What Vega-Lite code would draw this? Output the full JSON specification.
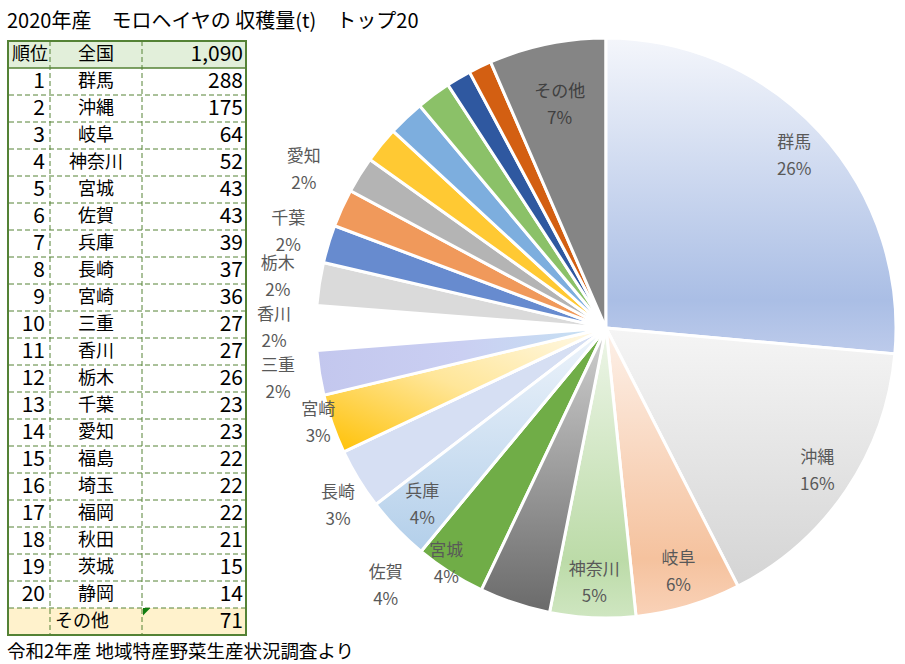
{
  "$schema": "https://vega.github.io/schema/vega-lite/v6.json",
  "background": "white",
  "padding": {"left": 7, "top": 12, "right": 0, "bottom": 0},
  "title": {"text": "2020年産\u3000モロヘイヤの 収穫量(t)\u3000トップ20", "anchor": "start", "fontSize": 20, "font": "Noto Sans CJK JP", "fontWeight": "normal", "color": "#000000", "offset": 0},
  "config": {"view": {"stroke": null}, "font": "Noto Sans CJK JP"},
  "datasets": {
    "prefs": [
      {"rank": 1, "name": "群馬", "t": 288},
      {"rank": 2, "name": "沖縄", "t": 175},
      {"rank": 3, "name": "岐阜", "t": 64},
      {"rank": 4, "name": "神奈川", "t": 52},
      {"rank": 5, "name": "宮城", "t": 43},
      {"rank": 6, "name": "佐賀", "t": 43},
      {"rank": 7, "name": "兵庫", "t": 39},
      {"rank": 8, "name": "長崎", "t": 37},
      {"rank": 9, "name": "宮崎", "t": 36},
      {"rank": 10, "name": "三重", "t": 27},
      {"rank": 11, "name": "香川", "t": 27},
      {"rank": 12, "name": "栃木", "t": 26},
      {"rank": 13, "name": "千葉", "t": 23},
      {"rank": 14, "name": "愛知", "t": 23},
      {"rank": 15, "name": "福島", "t": 22},
      {"rank": 16, "name": "埼玉", "t": 22},
      {"rank": 17, "name": "福岡", "t": 22},
      {"rank": 18, "name": "秋田", "t": 21},
      {"rank": 19, "name": "茨城", "t": 15},
      {"rank": 20, "name": "静岡", "t": 14},
      {"rank": null, "name": "その他", "t": 71}
    ]
  },
  "hconcat": [
    {
      "width": 238,
      "height": 594,
      "data": {"name": "prefs"},
      "title": {"text": "令和2年産 地域特産野菜生産状況調査より", "orient": "bottom", "anchor": "start", "fontSize": 18.5, "font": "Noto Sans CJK JP", "fontWeight": "normal", "color": "#000000", "offset": 7},
      "layer": [
        {
          "transform": [{"aggregate": [{"op": "count", "as": "n"}]}],
          "mark": {"type": "rect", "color": "#E2EFDA"},
          "encoding": {
            "x": {"datum": 0, "type": "quantitative", "scale": {"domain": [0, 238], "nice": false, "zero": false}, "axis": null},
            "x2": {"datum": 238},
            "y": {"datum": "全国", "type": "nominal", "scale": {"domain": ["全国","群馬","沖縄","岐阜","神奈川","宮城","佐賀","兵庫","長崎","宮崎","三重","香川","栃木","千葉","愛知","福島","埼玉","福岡","秋田","茨城","静岡","その他"], "paddingInner": 0, "paddingOuter": 0}, "axis": null}
          }
        },
        {
          "transform": [{"filter": "datum.name === 'その他'"}],
          "mark": {"type": "rect", "color": "#FFF2CC"},
          "encoding": {
            "x": {"datum": 0, "type": "quantitative", "scale": {"domain": [0, 238], "nice": false, "zero": false}, "axis": null},
            "x2": {"datum": 238},
            "y": {"field": "name", "type": "nominal", "scale": {"domain": ["全国","群馬","沖縄","岐阜","神奈川","宮城","佐賀","兵庫","長崎","宮崎","三重","香川","栃木","千葉","愛知","福島","埼玉","福岡","秋田","茨城","静岡","その他"], "paddingInner": 0, "paddingOuter": 0}, "axis": null}
          }
        },
        {
          "transform": [{"filter": "datum.name !== '群馬'"}],
          "mark": {"type": "rule", "color": "#548235", "strokeWidth": 1, "strokeDash": [5, 3]},
          "encoding": {
            "y": {"field": "name", "type": "nominal", "bandPosition": 0, "scale": {"domain": ["全国","群馬","沖縄","岐阜","神奈川","宮城","佐賀","兵庫","長崎","宮崎","三重","香川","栃木","千葉","愛知","福島","埼玉","福岡","秋田","茨城","静岡","その他"], "paddingInner": 0, "paddingOuter": 0}, "axis": null}
          }
        },
        {
          "transform": [{"filter": "datum.name === '群馬'"}],
          "mark": {"type": "rule", "color": "#548235", "strokeWidth": 1.5},
          "encoding": {
            "y": {"field": "name", "type": "nominal", "bandPosition": 0, "scale": {"domain": ["全国","群馬","沖縄","岐阜","神奈川","宮城","佐賀","兵庫","長崎","宮崎","三重","香川","栃木","千葉","愛知","福島","埼玉","福岡","秋田","茨城","静岡","その他"], "paddingInner": 0, "paddingOuter": 0}, "axis": null}
          }
        },
        {
          "transform": [{"aggregate": [{"op": "count", "as": "n"}]}],
          "mark": {"type": "rule", "color": "#548235", "strokeWidth": 1, "strokeDash": [5, 3]},
          "encoding": {
            "x": {"datum": 42, "type": "quantitative", "scale": {"domain": [0, 238], "nice": false, "zero": false}, "axis": null}
          }
        },
        {
          "transform": [{"aggregate": [{"op": "count", "as": "n"}]}],
          "mark": {"type": "rule", "color": "#548235", "strokeWidth": 1, "strokeDash": [5, 3]},
          "encoding": {
            "x": {"datum": 134, "type": "quantitative", "scale": {"domain": [0, 238], "nice": false, "zero": false}, "axis": null}
          }
        },
        {
          "transform": [{"filter": "datum.rank != null"}],
          "mark": {"type": "text", "align": "right", "baseline": "middle", "fontSize": 21, "font": "Noto Sans CJK JP", "color": "#000000"},
          "encoding": {
            "x": {"datum": 37, "type": "quantitative", "scale": {"domain": [0, 238], "nice": false, "zero": false}, "axis": null},
            "y": {"field": "name", "type": "nominal", "scale": {"domain": ["全国","群馬","沖縄","岐阜","神奈川","宮城","佐賀","兵庫","長崎","宮崎","三重","香川","栃木","千葉","愛知","福島","埼玉","福岡","秋田","茨城","静岡","その他"], "paddingInner": 0, "paddingOuter": 0}, "axis": null},
            "text": {"field": "rank", "type": "nominal"}
          }
        },
        {
          "transform": [{"filter": "datum.name !== 'その他'"}],
          "mark": {"type": "text", "align": "center", "baseline": "middle", "fontSize": 18, "font": "Noto Sans CJK JP", "color": "#000000"},
          "encoding": {
            "x": {"datum": 88, "type": "quantitative", "scale": {"domain": [0, 238], "nice": false, "zero": false}, "axis": null},
            "y": {"field": "name", "type": "nominal", "scale": {"domain": ["全国","群馬","沖縄","岐阜","神奈川","宮城","佐賀","兵庫","長崎","宮崎","三重","香川","栃木","千葉","愛知","福島","埼玉","福岡","秋田","茨城","静岡","その他"], "paddingInner": 0, "paddingOuter": 0}, "axis": null},
            "text": {"field": "name", "type": "nominal"}
          }
        },
        {
          "transform": [{"filter": "datum.name === 'その他'"}],
          "mark": {"type": "text", "align": "left", "baseline": "middle", "fontSize": 18, "font": "Noto Sans CJK JP", "color": "#000000"},
          "encoding": {
            "x": {"datum": 47, "type": "quantitative", "scale": {"domain": [0, 238], "nice": false, "zero": false}, "axis": null},
            "y": {"field": "name", "type": "nominal", "scale": {"domain": ["全国","群馬","沖縄","岐阜","神奈川","宮城","佐賀","兵庫","長崎","宮崎","三重","香川","栃木","千葉","愛知","福島","埼玉","福岡","秋田","茨城","静岡","その他"], "paddingInner": 0, "paddingOuter": 0}, "axis": null},
            "text": {"field": "name", "type": "nominal"}
          }
        },
        {
          "mark": {"type": "text", "align": "right", "baseline": "middle", "fontSize": 21, "font": "Noto Sans CJK JP", "color": "#000000"},
          "encoding": {
            "x": {"datum": 235, "type": "quantitative", "scale": {"domain": [0, 238], "nice": false, "zero": false}, "axis": null},
            "y": {"field": "name", "type": "nominal", "scale": {"domain": ["全国","群馬","沖縄","岐阜","神奈川","宮城","佐賀","兵庫","長崎","宮崎","三重","香川","栃木","千葉","愛知","福島","埼玉","福岡","秋田","茨城","静岡","その他"], "paddingInner": 0, "paddingOuter": 0}, "axis": null},
            "text": {"field": "t", "type": "quantitative", "format": ","}
          }
        },
        {
          "transform": [{"aggregate": [{"op": "sum", "field": "t", "as": "total"}]}],
          "mark": {"type": "text", "align": "center", "baseline": "middle", "fontSize": 18, "font": "Noto Sans CJK JP", "color": "#000000", "text": "順位"},
          "encoding": {
            "x": {"datum": 22, "type": "quantitative", "scale": {"domain": [0, 238], "nice": false, "zero": false}, "axis": null},
            "y": {"datum": "全国", "type": "nominal", "scale": {"domain": ["全国","群馬","沖縄","岐阜","神奈川","宮城","佐賀","兵庫","長崎","宮崎","三重","香川","栃木","千葉","愛知","福島","埼玉","福岡","秋田","茨城","静岡","その他"], "paddingInner": 0, "paddingOuter": 0}, "axis": null}
          }
        },
        {
          "transform": [{"aggregate": [{"op": "sum", "field": "t", "as": "total"}]}],
          "mark": {"type": "text", "align": "center", "baseline": "middle", "fontSize": 18, "font": "Noto Sans CJK JP", "color": "#000000", "text": "全国"},
          "encoding": {
            "x": {"datum": 88, "type": "quantitative", "scale": {"domain": [0, 238], "nice": false, "zero": false}, "axis": null},
            "y": {"datum": "全国", "type": "nominal", "scale": {"domain": ["全国","群馬","沖縄","岐阜","神奈川","宮城","佐賀","兵庫","長崎","宮崎","三重","香川","栃木","千葉","愛知","福島","埼玉","福岡","秋田","茨城","静岡","その他"], "paddingInner": 0, "paddingOuter": 0}, "axis": null}
          }
        },
        {
          "transform": [{"aggregate": [{"op": "sum", "field": "t", "as": "total"}]}],
          "mark": {"type": "text", "align": "right", "baseline": "middle", "fontSize": 21, "font": "Noto Sans CJK JP", "color": "#000000"},
          "encoding": {
            "x": {"datum": 235, "type": "quantitative", "scale": {"domain": [0, 238], "nice": false, "zero": false}, "axis": null},
            "y": {"datum": "全国", "type": "nominal", "scale": {"domain": ["全国","群馬","沖縄","岐阜","神奈川","宮城","佐賀","兵庫","長崎","宮崎","三重","香川","栃木","千葉","愛知","福島","埼玉","福岡","秋田","茨城","静岡","その他"], "paddingInner": 0, "paddingOuter": 0}, "axis": null},
            "text": {"field": "total", "type": "quantitative", "format": ","}
          }
        },
        {
          "transform": [{"filter": "datum.name === 'その他'"}],
          "mark": {"type": "point", "shape": "M 0 0 L 1 0 L 0 1 Z", "filled": true, "color": "#107C10", "size": 220, "opacity": 1},
          "encoding": {
            "x": {"datum": 135, "type": "quantitative", "scale": {"domain": [0, 238], "nice": false, "zero": false}, "axis": null},
            "y": {"field": "name", "type": "nominal", "bandPosition": 0, "scale": {"domain": ["全国","群馬","沖縄","岐阜","神奈川","宮城","佐賀","兵庫","長崎","宮崎","三重","香川","栃木","千葉","愛知","福島","埼玉","福岡","秋田","茨城","静岡","その他"], "paddingInner": 0, "paddingOuter": 0}, "axis": null}
          }
        },
        {
          "transform": [{"aggregate": [{"op": "count", "as": "n"}]}],
          "mark": {"type": "rect", "fillOpacity": 0, "stroke": "#548235", "strokeWidth": 2},
          "encoding": {
            "x": {"datum": 0, "type": "quantitative", "scale": {"domain": [0, 238], "nice": false, "zero": false}, "axis": null},
            "x2": {"datum": 238}
          }
        }
      ]
    },
    {
      "width": 580,
      "height": 574,
      "data": {"name": "prefs"},
      "transform": [
        {"window": [{"op": "row_number", "as": "seq"}]},
        {"stack": "t", "groupby": [], "sort": [{"field": "seq", "order": "ascending"}], "as": ["a0", "a1"], "offset": "normalize"},
        {"calculate": "(datum.a0 + datum.a1) / 2", "as": "mid"},
        {"calculate": "datum.name + '\\n' + format(datum.a1 - datum.a0, '.0%')", "as": "label"}
      ],
      "layer": [
        {
          "mark": {"type": "arc", "radius": 290, "stroke": "white", "strokeWidth": 3},
          "encoding": {
            "theta": {"field": "a0", "type": "quantitative", "scale": {"domain": [0, 1]}, "stack": null},
            "theta2": {"field": "a1"},
            "color": {"field": "name", "type": "nominal", "legend": null, "scale": {
              "domain": ["群馬","沖縄","岐阜","神奈川","宮城","佐賀","兵庫","長崎","宮崎","三重","香川","栃木","千葉","愛知","福島","埼玉","福岡","秋田","茨城","静岡","その他"],
              "range": ["#C5D3EE","#E6E6E6","#F8CFB0","#CFE5C2","#9E9E9E","#70AD47","#C6DCF1","#D6DFF3","#FFD966","#C5CDF0","#FFFFFF","#DADADA","#678BCF","#F0995B","#B4B4B4","#FFC933","#7DAEDE","#8BC168","#2F58A0","#D35F12","#858585"]}}
          }
        },
        {
          "transform": [{"filter": "datum.name === '群馬'"}],
          "mark": {"type": "arc", "radius": 290, "stroke": "white", "strokeWidth": 3, "fill": {"gradient": "linear", "x1": 0, "y1": 0, "x2": 0, "y2": 1, "stops": [{"offset": 0, "color": "#F4F6FB"}, {"offset": 0.83, "color": "#AABEE5"}, {"offset": 1, "color": "#BDCBEB"}]}},
          "encoding": {"theta": {"field": "a0", "type": "quantitative", "scale": {"domain": [0, 1]}, "stack": null}, "theta2": {"field": "a1"}}
        },
        {
          "transform": [{"filter": "datum.name === '沖縄'"}],
          "mark": {"type": "arc", "radius": 290, "stroke": "white", "strokeWidth": 3, "fill": {"gradient": "linear", "x1": 0, "y1": 0, "x2": 0, "y2": 1, "stops": [{"offset": 0, "color": "#F5F5F5"}, {"offset": 1, "color": "#D4D4D4"}]}},
          "encoding": {"theta": {"field": "a0", "type": "quantitative", "scale": {"domain": [0, 1]}, "stack": null}, "theta2": {"field": "a1"}}
        },
        {
          "transform": [{"filter": "datum.name === '岐阜'"}],
          "mark": {"type": "arc", "radius": 290, "stroke": "white", "strokeWidth": 3, "fill": {"gradient": "linear", "x1": 0, "y1": 0, "x2": 0, "y2": 1, "stops": [{"offset": 0, "color": "#FDF1E9"}, {"offset": 0.8, "color": "#F5C29E"}, {"offset": 1, "color": "#F9D2B8"}]}},
          "encoding": {"theta": {"field": "a0", "type": "quantitative", "scale": {"domain": [0, 1]}, "stack": null}, "theta2": {"field": "a1"}}
        },
        {
          "transform": [{"filter": "datum.name === '神奈川'"}],
          "mark": {"type": "arc", "radius": 290, "stroke": "white", "strokeWidth": 3, "fill": {"gradient": "linear", "x1": 0, "y1": 0, "x2": 0, "y2": 1, "stops": [{"offset": 0, "color": "#EEF6E9"}, {"offset": 0.8, "color": "#BCDBA8"}, {"offset": 1, "color": "#CFE6C1"}]}},
          "encoding": {"theta": {"field": "a0", "type": "quantitative", "scale": {"domain": [0, 1]}, "stack": null}, "theta2": {"field": "a1"}}
        },
        {
          "transform": [{"filter": "datum.name === '宮城'"}],
          "mark": {"type": "arc", "radius": 290, "stroke": "white", "strokeWidth": 3, "fill": {"gradient": "linear", "x1": 0, "y1": 0, "x2": 0, "y2": 1, "stops": [{"offset": 0, "color": "#D0D0D0"}, {"offset": 1, "color": "#6A6A6A"}]}},
          "encoding": {"theta": {"field": "a0", "type": "quantitative", "scale": {"domain": [0, 1]}, "stack": null}, "theta2": {"field": "a1"}}
        },
        {
          "transform": [{"filter": "datum.name === '兵庫'"}],
          "mark": {"type": "arc", "radius": 290, "stroke": "white", "strokeWidth": 3, "fill": {"gradient": "linear", "x1": 0, "y1": 0, "x2": 0, "y2": 1, "stops": [{"offset": 0, "color": "#EEF4FB"}, {"offset": 1, "color": "#B3CFEA"}]}},
          "encoding": {"theta": {"field": "a0", "type": "quantitative", "scale": {"domain": [0, 1]}, "stack": null}, "theta2": {"field": "a1"}}
        },
        {
          "transform": [{"filter": "datum.name === '宮崎'"}],
          "mark": {"type": "arc", "radius": 290, "stroke": "white", "strokeWidth": 3, "fill": {"gradient": "linear", "x1": 0, "y1": 1, "x2": 1, "y2": 0, "stops": [{"offset": 0, "color": "#FFC000"}, {"offset": 0.5, "color": "#FFE699"}, {"offset": 1, "color": "#FFFAEC"}]}},
          "encoding": {"theta": {"field": "a0", "type": "quantitative", "scale": {"domain": [0, 1]}, "stack": null}, "theta2": {"field": "a1"}}
        },
        {
          "transform": [{"filter": "datum.name === '三重'"}],
          "mark": {"type": "arc", "radius": 290, "stroke": "white", "strokeWidth": 3, "fill": {"gradient": "linear", "x1": 0, "y1": 0, "x2": 1, "y2": 0, "stops": [{"offset": 0, "color": "#C3C7EE"}, {"offset": 0.5, "color": "#CACFF2"}, {"offset": 1, "color": "#C6E2F3"}]}},
          "encoding": {"theta": {"field": "a0", "type": "quantitative", "scale": {"domain": [0, 1]}, "stack": null}, "theta2": {"field": "a1"}}
        },
        {
          "transform": [{"filter": {"field": "name", "oneOf": ["群馬", "沖縄", "岐阜", "神奈川", "兵庫"]}}],
          "mark": {"type": "text", "radius": 255, "dy": -13, "font": "Noto Sans CJK JP", "fontSize": 17, "color": "#595959", "lineBreak": "\n", "lineHeight": 27, "align": "center", "baseline": "middle"},
          "encoding": {"theta": {"field": "mid", "type": "quantitative", "scale": {"domain": [0, 1]}, "stack": null}, "text": {"field": "label"}}
        },
        {
          "transform": [{"filter": "datum.name === 'その他'"}],
          "mark": {"type": "text", "radius": 228, "dy": -13, "font": "Noto Sans CJK JP", "fontSize": 17, "color": "#404040", "lineBreak": "\n", "lineHeight": 27, "align": "center", "baseline": "middle"},
          "encoding": {"theta": {"field": "mid", "type": "quantitative", "scale": {"domain": [0, 1]}, "stack": null}, "text": {"field": "label"}}
        },
        {
          "transform": [{"filter": {"field": "name", "oneOf": ["三重", "香川", "栃木", "千葉"]}}],
          "mark": {"type": "text", "radius": 332, "dy": -13, "font": "Noto Sans CJK JP", "fontSize": 17, "color": "#595959", "lineBreak": "\n", "lineHeight": 27, "align": "center", "baseline": "middle"},
          "encoding": {"theta": {"field": "mid", "type": "quantitative", "scale": {"domain": [0, 1]}, "stack": null}, "text": {"field": "label"}}
        },
        {
          "transform": [{"filter": "datum.name === '愛知'"}],
          "mark": {"type": "text", "radius": 332, "dy": -34, "font": "Noto Sans CJK JP", "fontSize": 17, "color": "#595959", "lineBreak": "\n", "lineHeight": 27, "align": "center", "baseline": "middle"},
          "encoding": {"theta": {"field": "mid", "type": "quantitative", "scale": {"domain": [0, 1]}, "stack": null}, "text": {"field": "label"}}
        },
        {
          "transform": [{"filter": "datum.name === '長崎'"}],
          "mark": {"type": "text", "radius": 322, "dx": 7, "dy": -3, "font": "Noto Sans CJK JP", "fontSize": 17, "color": "#595959", "lineBreak": "\n", "lineHeight": 27, "align": "center", "baseline": "middle"},
          "encoding": {"theta": {"field": "mid", "type": "quantitative", "scale": {"domain": [0, 1]}, "stack": null}, "text": {"field": "label"}}
        },
        {
          "transform": [{"filter": "datum.name === '宮崎'"}],
          "mark": {"type": "text", "radius": 305, "dy": -19, "font": "Noto Sans CJK JP", "fontSize": 17, "color": "#595959", "lineBreak": "\n", "lineHeight": 27, "align": "center", "baseline": "middle"},
          "encoding": {"theta": {"field": "mid", "type": "quantitative", "scale": {"domain": [0, 1]}, "stack": null}, "text": {"field": "label"}}
        },
        {
          "transform": [{"filter": "datum.name === '宮城'"}],
          "mark": {"type": "text", "radius": 285, "dx": -70, "dy": -48, "font": "Noto Sans CJK JP", "fontSize": 17, "color": "#595959", "lineBreak": "\n", "lineHeight": 27, "align": "center", "baseline": "middle"},
          "encoding": {"theta": {"field": "mid", "type": "quantitative", "scale": {"domain": [0, 1]}, "stack": null}, "text": {"field": "label"}}
        },
        {
          "transform": [{"filter": "datum.name === '佐賀'"}],
          "mark": {"type": "text", "radius": 339, "dx": -38, "dy": -41, "font": "Noto Sans CJK JP", "fontSize": 17, "color": "#595959", "lineBreak": "\n", "lineHeight": 27, "align": "center", "baseline": "middle"},
          "encoding": {"theta": {"field": "mid", "type": "quantitative", "scale": {"domain": [0, 1]}, "stack": null}, "text": {"field": "label"}}
        }
      ]
    }
  ],
  "spacing": 70,
  "bounds": "flush"
}
